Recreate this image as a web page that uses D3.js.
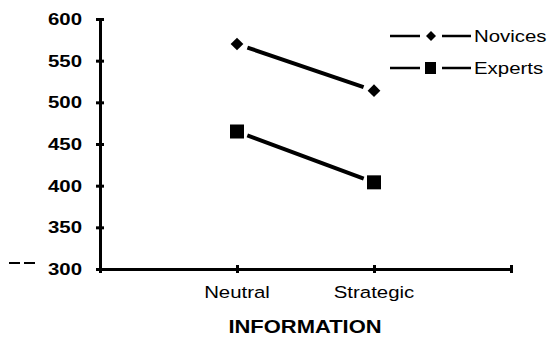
<!DOCTYPE html>
<html><head><meta charset="utf-8">
<script src="https://cdn.jsdelivr.net/npm/d3@7"></script>
<style>body{margin:0;background:#fff}svg{display:block}text{font-family:"Liberation Sans",Arial,sans-serif;fill:#000}</style>
</head><body><svg id="c" width="549" height="343"></svg>
<script>
const categories = ["Neutral", "Strategic"];
const novices = [570, 514];
const experts = [465, 404];
const yTicks = [300, 350, 400, 450, 500, 550, 600];
const seriesNames = ["Novices", "Experts"];

const svg = d3.select("#c");
const x = d3.scaleLinear().domain([0, 3]).range([100, 511]);
const y = d3.scaleLinear().domain([300, 600]).range([269, 19]);
const xc = i => x(i + 1);
const SX = 1.2;

// y axis
const gy = svg.append("g").attr("transform", "translate(100,0)")
  .call(d3.axisLeft(y).tickValues(yTicks).tickSize(0).tickFormat(""));
gy.select(".domain").attr("stroke", "#000").attr("stroke-width", 3);
gy.selectAll(".tick").append("line").attr("x1", -4).attr("x2", 4).attr("stroke", "#000").attr("stroke-width", 3);
svg.selectAll(".ylab").data(yTicks).enter().append("text")
  .attr("transform", d => `translate(82,${y(d)}) scale(${SX},1)`)
  .attr("text-anchor", "end").attr("dy", "0.36em")
  .style("font-size", "17px").style("font-weight", "bold").text(d => d);

// x axis
const gx = svg.append("g").attr("transform", "translate(0,269)")
  .call(d3.axisBottom(x).tickValues([0, 1, 2, 3]).tickSize(0).tickFormat(""));
gx.select(".domain").attr("stroke", "#000").attr("stroke-width", 3);
gx.selectAll(".tick").append("line").attr("y1", -4).attr("y2", 4).attr("stroke", "#000").attr("stroke-width", 3);

svg.selectAll(".cat").data(categories).enter().append("text")
  .attr("transform", (d, i) => `translate(${xc(i)},298) scale(${SX},1)`)
  .attr("text-anchor", "middle").style("font-size", "17px").text(d => d);
svg.append("text").attr("transform", `translate(305,333) scale(1.22,1)`).attr("text-anchor", "middle")
  .style("font-size", "18px").style("font-weight", "bold").text("INFORMATION");

// dashes at left
svg.append("line").attr("x1", 9).attr("x2", 35).attr("y1", 263).attr("y2", 263)
  .attr("stroke", "#000").attr("stroke-width", 2).attr("stroke-dasharray", "11,4");

// series lines with gaps near markers
function seg(vals, gap) {
  const x1 = xc(0), y1 = y(vals[0]), x2 = xc(1), y2 = y(vals[1]);
  const L = Math.hypot(x2 - x1, y2 - y1), ux = (x2 - x1) / L, uy = (y2 - y1) / L;
  return [x1 + ux * gap, y1 + uy * gap, x2 - ux * gap, y2 - uy * gap];
}
[novices, experts].forEach(v => {
  const s = seg(v, 11);
  svg.append("line").attr("x1", s[0]).attr("y1", s[1]).attr("x2", s[2]).attr("y2", s[3])
    .attr("stroke", "#000").attr("stroke-width", 4);
});
const dia = d3.symbol().type(d3.symbolSquare).size(81);
svg.selectAll(".nov").data(novices).enter().append("path")
  .attr("d", dia).attr("transform", (d, i) => `translate(${xc(i)},${y(d)}) rotate(45)`);
svg.selectAll(".exp").data(experts).enter().append("rect")
  .attr("x", (d, i) => xc(i) - 7).attr("y", d => y(d) - 7).attr("width", 14).attr("height", 14);

// legend
const leg = svg.append("g");
seriesNames.forEach((n, i) => {
  const ly = 36 + i * 32;
  leg.append("line").attr("x1", 390).attr("x2", 420).attr("y1", ly).attr("y2", ly).attr("stroke", "#000").attr("stroke-width", 2.5);
  leg.append("line").attr("x1", 442).attr("x2", 471).attr("y1", ly).attr("y2", ly).attr("stroke", "#000").attr("stroke-width", 2.5);
  if (i === 0) leg.append("path").attr("d", d3.symbol().type(d3.symbolSquare).size(50)).attr("transform", `translate(431,${ly}) rotate(45)`);
  else leg.append("rect").attr("x", 425).attr("y", ly - 6).attr("width", 11).attr("height", 12);
  leg.append("text").attr("transform", `translate(474,${ly}) scale(${SX},1)`).attr("dy", "0.36em").style("font-size", "17px").text(n);
});
</script></body></html>
